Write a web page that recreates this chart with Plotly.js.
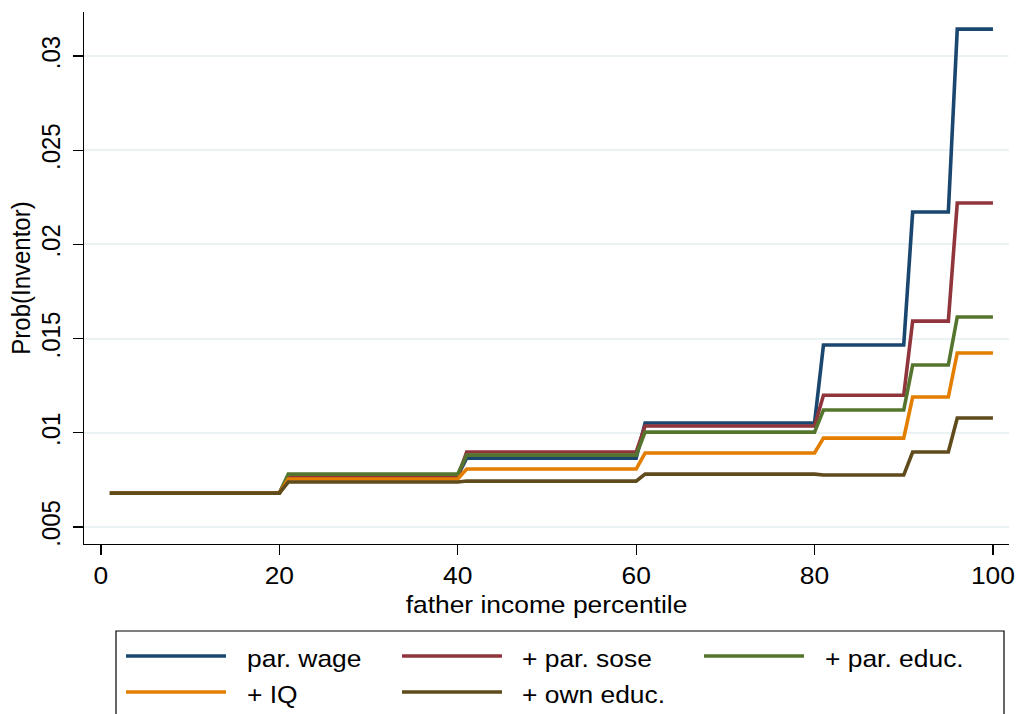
<!DOCTYPE html>
<html>
<head>
<meta charset="utf-8">
<script src="https://cdn.plot.ly/plotly-3.0.1.min.js"></script>
<style>
  html, body { margin: 0; padding: 0; background: #fff; }
  #chart { width: 1017px; height: 714px; }
</style>
</head>
<body>
<div id="chart"></div>
<script>
// Percentile bins (start and end of each flat step)
const binStart = [1, 21, 41, 61, 81, 91, 96];
const binEnd   = [20, 40, 60, 80, 90, 95, 100];

// Series names
const seriesNames = ["par. wage", "+ par. sose", "+ par. educ.", "+ IQ", "+ own educ."];

// Values per bin (Prob(Inventor))
const parWage = [0.0068, 0.00772, 0.00866, 0.01052, 0.01466, 0.02172, 0.03143];
const parSose = [0.0068, 0.00765, 0.00898, 0.01036, 0.01200, 0.01593, 0.02220];
const parEduc = [0.0068, 0.00781, 0.00882, 0.01004, 0.01121, 0.01360, 0.01615];
const iq      = [0.0068, 0.00755, 0.00808, 0.00893, 0.00972, 0.01190, 0.01424];
const ownEduc = [0.0068, 0.00739, 0.00744, 0.00781, 0.00776, 0.00898, 0.01079];

// Tick labels
const yTickVals = [0.005, 0.01, 0.015, 0.02, 0.025, 0.03];
const yTickText = [".005", ".01", ".015", ".02", ".025", ".03"];
const xTickVals = [0, 20, 40, 60, 80, 100];

const seriesValues = [parWage, parSose, parEduc, iq, ownEduc];
const colors = ["#1a476f", "#90353b", "#55752f", "#e37e00", "#5f4b1c"];

function expand(vals) {
  const x = [], y = [];
  for (let i = 0; i < binStart.length; i++) {
    x.push(binStart[i], binEnd[i]);
    y.push(vals[i], vals[i]);
  }
  return {x, y};
}

const traces = seriesValues.map((vals, i) => {
  const d = expand(vals);
  return {
    type: "scatter", mode: "lines", name: seriesNames[i],
    x: d.x, y: d.y,
    line: {color: colors[i], width: 3.6},
    showlegend: false, hoverinfo: "skip"
  };
});

// Plot area in pixels
const W = 1017, H = 714;
const L = 84, R = 1009, T = 12, B = 544;
const px2x = p => (p - L) / (R - L);
const py2y = p => (B - p) / (B - T);

const FONT = "Liberation Sans, Arial, Helvetica, sans-serif";

// Custom legend (box, line samples, labels)
const shapes = [{
  type: "rect", xref: "paper", yref: "paper",
  x0: px2x(116), x1: px2x(1004), y0: py2y(740), y1: py2y(631),
  line: {color: "#000", width: 1.2}, fillcolor: "rgba(0,0,0,0)", layer: "above"
}];
const annotations = [];
const colLineX = [126, 402, 704];
const colTextX = [245, 520, 823];
const rowY = [656, 692];
seriesNames.forEach((name, i) => {
  const r = Math.floor(i / 3), c = i % 3;
  shapes.push({
    type: "line", xref: "paper", yref: "paper",
    x0: px2x(colLineX[c]), x1: px2x(colLineX[c] + 100),
    y0: py2y(rowY[r]), y1: py2y(rowY[r]),
    line: {color: colors[i], width: 3.6}
  });
  annotations.push({
    xref: "paper", yref: "paper", x: px2x(colTextX[c]), y: py2y(rowY[r] + 2),
    xanchor: "left", yanchor: "middle", showarrow: false,
    text: name, font: {family: FONT, size: 24, color: "#000"}
  });
});

const layout = {
  width: W, height: H,
  margin: {l: L, r: W - R, t: T, b: H - B, pad: 0},
  paper_bgcolor: "#fff", plot_bgcolor: "#fff",
  font: {family: FONT, size: 24, color: "#000"},
  showlegend: false,
  xaxis: {
    range: [-1.9, 101.8], tickvals: xTickVals, ticktext: xTickVals.map(String),
    showgrid: false, zeroline: false, showline: true, linecolor: "#000", linewidth: 1.2,
    ticks: "outside", ticklen: 10, tickwidth: 1.2, tickcolor: "#000",
    tickfont: {family: FONT, size: 24, color: "#000"},
    title: {text: "father income percentile", font: {family: FONT, size: 24, color: "#000"}, standoff: 8},
    fixedrange: true
  },
  yaxis: {
    range: [0.00410, 0.03234], tickvals: yTickVals, ticktext: yTickText,
    tickangle: -90, ticklabelstandoff: 4,
    showgrid: true, gridcolor: "#eaf2f3", gridwidth: 2,
    zeroline: false, showline: true, linecolor: "#000", linewidth: 1.2,
    ticks: "outside", ticklen: 10, tickwidth: 1.2, tickcolor: "#000",
    tickfont: {family: FONT, size: 24, color: "#000"},
    title: {text: "Prob(Inventor)", font: {family: FONT, size: 24, color: "#000"}, standoff: 0},
    fixedrange: true
  },
  shapes: shapes,
  annotations: annotations
};

// The reference's lettering is slightly wide; stretch each text horizontally about its anchor.
const STRETCH = 1.1;
function widenText(gd) {
  const svg = gd.querySelector(".main-svg");
  gd.querySelectorAll(".main-svg text").forEach(el => {
    if (!el.textContent) return;
    const bb = el.getBBox();
    const isAnnotation = !!el.closest(".annotation");
    const anchor = isAnnotation ? "start" : (el.getAttribute("text-anchor") || "start");
    let lx = bb.x + bb.width / 2;
    if (anchor === "start") lx = bb.x;
    else if (anchor === "end") lx = bb.x + bb.width;
    const ly = bb.y + bb.height / 2;
    const tl = el.transform.baseVal;
    const M = tl.numberOfItems ? tl.consolidate().matrix : svg.createSVGMatrix();
    const px = M.a * lx + M.c * ly + M.e;
    const S = svg.createSVGMatrix().translate(px, 0).scaleNonUniform(STRETCH, 1).translate(-px, 0);
    const N = S.multiply(M);
    el.setAttribute("transform", `matrix(${N.a},${N.b},${N.c},${N.d},${N.e},${N.f})`);
  });
}

Plotly.newPlot("chart", traces, layout, {displayModeBar: false, staticPlot: true})
  .then(gd => widenText(gd));
</script>
</body>
</html>
